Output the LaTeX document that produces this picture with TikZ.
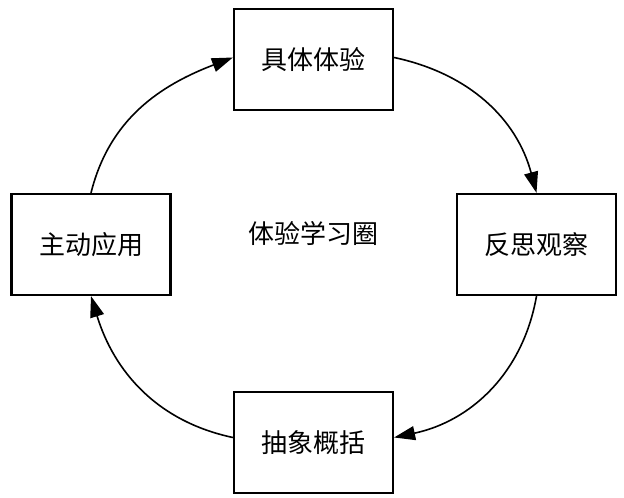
\documentclass[tikz,border=0pt]{standalone}
\usepackage{fontspec}
\newfontfamily\cjk{Noto Sans CJK SC}
\usetikzlibrary{arrows.meta}
\begin{document}
\begin{tikzpicture}[x=1pt,y=-1pt,
  stage/.style={draw=black,line width=2.2pt,minimum width=159pt,minimum height=101pt,inner sep=0pt,font=\cjk\fontsize{26}{29}\selectfont},
  arr/.style={line width=1.6pt,-{Triangle[length=21pt,width=14pt]}},
  title/.style={font=\cjk\fontsize{26}{29}\selectfont}]
\useasboundingbox (0,0) rectangle (624,498);
\node[stage] (top) at (313.5,59.5) {具体体验};
\node[stage] (right) at (536.5,244.5) {反思观察};
\node[stage] (bottom) at (313.5,442.5) {抽象概括};
\node[stage] (left) at (91,244.5) {主动应用};
\node[title] (center) at (313,233.5) {体验学习圈};
\draw[arr] ([yshift=2pt]top.east) to[out=-12,in=105] (right.north);
\draw[arr] (right.south) to[out=-100,in=12] ([yshift=5pt]bottom.east);
\draw[arr] ([yshift=5pt]bottom.west) to[out=168,in=-73] (left.south);
\draw[arr] (left.north) to[out=76,in=-159] ([yshift=2pt]top.west);
\end{tikzpicture}
\end{document}
